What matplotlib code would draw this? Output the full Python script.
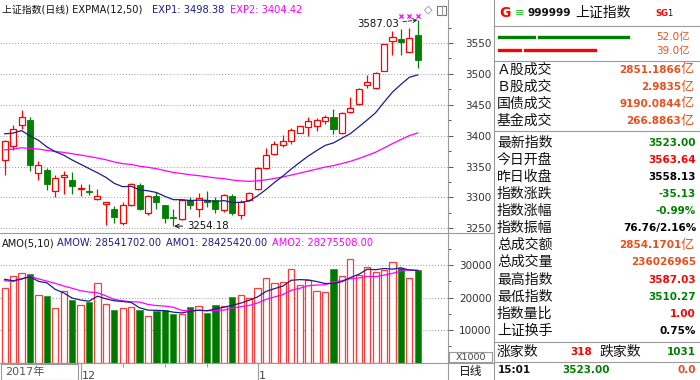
import matplotlib
matplotlib.use('Agg')
import matplotlib.pyplot as plt
from matplotlib.patches import Rectangle
from matplotlib.lines import Line2D
import matplotlib.transforms as mtrans
import numpy as np

plt.rcParams['font.family'] = ['DejaVu Sans', 'Noto Sans CJK SC']

# ---- daily candles ----
opens = [3360, 3383, 3418, 3425, 3340, 3345, 3310, 3333, 3329, 3313, 3311, 3298, 3290, 3282, 3258,
         3288, 3320, 3275, 3302, 3287, 3269, 3265, 3296, 3281, 3296, 3296, 3279, 3302, 3272, 3296,
         3314, 3347, 3371, 3385, 3392, 3405, 3414, 3415, 3424, 3431, 3404, 3438, 3451, 3482, 3477,
         3505, 3554, 3556, 3536, 3563.64]
highs = [3393, 3418, 3442, 3430, 3359, 3347, 3336, 3342, 3341, 3322, 3322, 3313, 3293, 3286, 3293,
         3323, 3323, 3304, 3308, 3288, 3281, 3297, 3300, 3307, 3311, 3300, 3306, 3305, 3296, 3308,
         3350, 3380, 3392, 3401, 3412, 3416, 3430, 3428, 3433, 3443, 3438, 3463, 3477, 3498, 3503,
         3549, 3569, 3572, 3575, 3587.03]
lows = [3336, 3377, 3410, 3342, 3328, 3312, 3300, 3305, 3306, 3303, 3304, 3296, 3256, 3259, 3256,
        3286, 3279, 3272, 3282, 3259, 3254.18, 3264, 3282, 3268, 3284, 3275, 3277, 3272, 3265, 3294,
        3312, 3346, 3369, 3382, 3387, 3405, 3400, 3408, 3419, 3403, 3403, 3436, 3450, 3477, 3476,
        3504, 3531, 3531, 3535, 3510.27]
closes = [3391, 3410, 3431, 3353, 3353, 3322, 3332, 3337, 3318, 3316, 3309, 3302, 3292, 3269, 3288,
          3321, 3281, 3302, 3293, 3267, 3267, 3296, 3288, 3299, 3293, 3282, 3304, 3275, 3293, 3307,
          3348, 3369, 3387, 3392, 3409, 3415, 3423, 3425, 3430, 3411, 3437, 3444, 3475, 3487, 3502,
          3548, 3560, 3551, 3558.13, 3523.00]

exp1 = [3403.0, 3404.1, 3408.2, 3399.7, 3392.5, 3381.7, 3374.1, 3368.4, 3360.6, 3353.7,
        3346.8, 3339.9, 3332.5, 3322.7, 3317.4, 3318.0, 3312.3, 3310.7, 3308.0, 3301.7,
        3296.4, 3296.3, 3295.0, 3295.6, 3295.3, 3293.3, 3294.9, 3291.8, 3292.0, 3294.3,
        3302.6, 3312.8, 3324.2, 3334.6, 3346.1, 3356.7, 3366.9, 3375.8, 3384.1, 3388.3,
        3395.8, 3403.2, 3414.2, 3425.4, 3437.2, 3454.2, 3470.5, 3482.9, 3494.5, 3498.38]
exp2 = [3377.0, 3378.3, 3380.4, 3379.3, 3378.3, 3376.1, 3374.4, 3372.9, 3370.7, 3368.6,
        3366.3, 3363.8, 3361.0, 3357.4, 3354.7, 3353.4, 3350.6, 3348.7, 3346.5, 3343.4,
        3340.4, 3338.7, 3336.7, 3335.2, 3333.5, 3331.5, 3330.4, 3328.2, 3326.8, 3326.0,
        3326.9, 3328.5, 3330.8, 3333.2, 3336.2, 3339.3, 3342.6, 3345.8, 3349.1, 3351.5,
        3354.9, 3358.4, 3363.0, 3367.9, 3373.2, 3380.1, 3387.2, 3393.6, 3400.1, 3404.42]

# turnover (x1000)
amount = [22890, 26770, 27500, 27200, 20830, 20520, 16740, 22060, 19290, 17750,
          18770, 24430, 18060, 16210, 16740, 17230, 16210, 14460, 15910, 16210,
          14980, 14980, 17050, 17540, 15390, 17750, 17540, 20120, 20830, 19810,
          22890, 25970, 24430, 24740, 28740, 23910, 25450, 22060, 21660, 28740,
          26680, 31820, 26980, 29540, 28000, 28520, 30890, 29050, 25970, 28541.702]
amo1 = [25660, 25200, 25800, 26460, 25038, 24564, 22558, 21470, 19888, 19272,
        18922, 20460, 19660, 19044, 18842, 18534, 16890, 16170, 16110, 16004,
        15554, 15308, 15826, 16152, 15988, 16542, 17054, 17668, 18326, 19210,
        20238, 21924, 22786, 23568, 25354, 25558, 25454, 24980, 24364, 24364,
        24918, 26192, 27176, 28752, 28604, 28972, 28786, 29200, 28486, 28425.42]
amo2 = [25230, 25000, 25700, 26600, 25800, 25100, 24400, 23600, 22900, 22155,
        21743, 21509, 20565, 19466, 19057, 18728, 18675, 17915, 17577, 17423,
        17044, 16099, 15998, 16131, 15996, 16048, 16181, 16747, 17239, 17599,
        18390, 19489, 20227, 20947, 22282, 22898, 23689, 23883, 23966, 24859,
        25238, 25823, 26078, 26558, 26484, 26945, 27489, 28188, 28619, 28275.508]

price_ticks = [3250, 3300, 3350, 3400, 3450, 3500, 3550]
vol_ticks = [10000, 20000, 30000]
month_pos = [9, 30]
month_labels = ['12', '1']

# side panel
bar_green = [15.5, 36.5]
bar_red = [10.1, 28.9]
bar_labels = ['52.0亿', '39.0亿']
info_rows = [('Ａ股成交', '2851.1866', '亿', 'orange'),
             ('Ｂ股成交', '2.9835', '亿', 'orange'),
             ('国债成交', '9190.0844', '亿', 'orange'),
             ('基金成交', '266.8863', '亿', 'orange'),
             ('最新指数', '3523.00', '', 'green'),
             ('今日开盘', '3563.64', '', 'red'),
             ('昨日收盘', '3558.13', '', 'black'),
             ('指数涨跌', '-35.13', '', 'green'),
             ('指数涨幅', '-0.99%', '', 'green'),
             ('指数振幅', '76.76/2.16%', '', 'black'),
             ('总成交额', '2854.1701', '亿', 'orange'),
             ('总成交量', '236026965', '', 'orange'),
             ('最高指数', '3587.03', '', 'red'),
             ('最低指数', '3510.27', '', 'green'),
             ('指数量比', '1.00', '', 'red'),
             ('上证换手', '0.75%', '', 'black')]

W, H = 700, 380
RED = '#ff0000'
GREEN = '#008000'
NAVY = '#1c1c8c'
MAG = '#ff00ff'
ORANGE = '#e8501e'
GRID = '#9a9a9a'
LINE = '#9a9a9a'
colmap = {'orange': ORANGE, 'green': GREEN, 'red': RED, 'black': '#000000'}

fig = plt.figure(figsize=(7, 3.8), dpi=100)
fig.patch.set_facecolor('white')


def axes_px(x0, y0, x1, y1):
    return fig.add_axes([x0 / W, 1 - y1 / H, (x1 - x0) / W, (y1 - y0) / H])


def ftext(px, py, s, **kw):
    kw.setdefault('va', 'center')
    fig.text(px / W, 1 - py / H, s, **kw)


def hline(y, x0, x1):
    fig.add_artist(Line2D([x0 / W, x1 / W], [1 - y / H, 1 - y / H], color=LINE, lw=0.8))


def vline(x, y0, y1):
    fig.add_artist(Line2D([x / W, x / W], [1 - y0 / H, 1 - y1 / H], color=LINE, lw=0.8))


x = np.arange(len(closes))
up = np.array(closes) >= np.array(opens)
XLIM = (-0.5575, 52.586)

# ---------- price panel ----------
ax_p = axes_px(0, 0, 448, 233)
ax_p.set_xlim(*XLIM)
ax_p.set_ylim(3242.4, 3619.6)
for s in ax_p.spines.values():
    s.set_visible(False)
ax_p.set_xticks([])
ax_p.yaxis.tick_right()
ax_p.set_yticks(price_ticks)
ax_p.set_yticks([p + 25 for p in price_ticks], minor=True)
ax_p.tick_params(axis='y', which='major', length=3.6, width=0.7, color='#555555',
                 labelsize=7.5, labelcolor='#333333', pad=28)
ax_p.tick_params(axis='y', which='minor', length=2, width=0.7, color='#555555')
for lbl in ax_p.get_yticklabels():
    lbl.set_horizontalalignment('right')
ax_p.grid(axis='y', which='major', linestyle=(0, (1, 2)), color=GRID, lw=0.7)

bw = 0.72
for i in range(len(closes)):
    o, h, l, c = opens[i], highs[i], lows[i], closes[i]
    col = RED if up[i] else GREEN
    ax_p.vlines(i, l, h, color=col, lw=0.9, zorder=2)
    lo, hi = min(o, c), max(o, c)
    ht = max(hi - lo, 1.0)
    if up[i]:
        ax_p.bar(i, ht, bottom=lo, width=bw, facecolor='white', edgecolor=RED, lw=0.9, zorder=3)
    else:
        ax_p.bar(i, ht, bottom=lo, width=bw, facecolor=GREEN, edgecolor=GREEN, lw=0.6, zorder=3)

ax_p.plot(x, exp2, color=MAG, lw=0.9, zorder=4)
ax_p.plot(x, exp1, color=NAVY, lw=0.9, zorder=4)

# high / low annotations
ih = int(np.argmax(highs))
il = int(np.argmin(lows))
ax_p.annotate(f'{highs[ih]:.2f}', xy=(ih, highs[ih]), xytext=(41.8, 3580.5),
              fontsize=7.3, va='center', ha='left', color='#111111',
              arrowprops=dict(arrowstyle='->', linestyle='--', lw=0.7, color='#333333',
                              shrinkA=1, shrinkB=0))
ax_p.annotate(f'{lows[il]:.2f}', xy=(il + 0.1, 3253.5), xytext=(21.6, 3253.5),
              fontsize=7.3, va='center', ha='left', color='#111111',
              arrowprops=dict(arrowstyle='->', lw=0.7, color='#111111', shrinkA=1, shrinkB=0))
ax_p.scatter(x[-3:], [3593.7] * 3, marker='x', s=9, color=MAG, lw=0.9, zorder=5)

ftext(2, 10, '上证指数(日线) EXPMA(12,50)', fontsize=7.1, color='#111111')
ftext(152, 10, f'EXP1: {exp1[-1]:.2f}', fontsize=7.1, color=NAVY)
ftext(230, 10, f'EXP2: {exp2[-1]:.2f}', fontsize=7.1, color=MAG)
ftext(428, 10, '◇', fontsize=8, color='#777777', ha='center')
fig.add_artist(Rectangle((437 / W, 1 - 15 / H), 9 / W, 9 / H, transform=fig.transFigure,
                         facecolor='white', edgecolor='#777777', lw=0.8))
vline(442, 6, 15)

# ---------- volume panel ----------
ax_v = axes_px(0, 233, 448, 363)
ax_v.set_xlim(*XLIM)
ax_v.set_ylim(-90, 39900)
for s in ax_v.spines.values():
    s.set_visible(False)
ax_v.yaxis.tick_right()
ax_v.set_yticks(vol_ticks)
ax_v.set_yticks([5000, 15000, 25000, 35000], minor=True)
ax_v.tick_params(axis='y', which='major', length=3.6, width=0.7, color='#555555',
                 labelsize=7.5, labelcolor='#333333', pad=28)
ax_v.tick_params(axis='y', which='minor', length=2, width=0.7, color='#555555')
for lbl in ax_v.get_yticklabels():
    lbl.set_horizontalalignment('right')
ax_v.grid(axis='y', which='major', linestyle=(0, (1, 2)), color=GRID, lw=0.7)

amt = np.array(amount)
ax_v.bar(x[up], amt[up], width=0.74, facecolor='white', edgecolor='#ff3a3a', lw=0.9, zorder=3)
ax_v.bar(x[~up], amt[~up], width=0.74, facecolor='#007800', edgecolor='#3aa03a', lw=0.7, zorder=3)
ax_v.plot(x, amo2, color=MAG, lw=0.9, zorder=4)
ax_v.plot(x, amo1, color=NAVY, lw=0.9, zorder=4)

# month ticks on the date row
ax_v.set_xticks(month_pos)
ax_v.set_xticks([14, 19, 24], minor=True)
ax_v.tick_params(axis='x', which='major', length=12, width=0.8, color=LINE, labelbottom=False)
ax_v.tick_params(axis='x', which='minor', length=3, width=0.7, color=LINE)
trans = mtrans.blended_transform_factory(ax_v.transData, ax_v.transAxes)
for mp, ml in zip(month_pos, month_labels):
    ax_v.text(mp + 0.2, -0.098, ml, transform=trans, fontsize=8, color='#444444',
              va='center', ha='left')

ftext(2, 243, 'AMO(5,10)', fontsize=7.1, color='#111111')
ftext(57, 243, f'AMOW: {amount[-1] * 1000:.2f}', fontsize=7.1, color=NAVY)
ftext(166, 243, f'AMO1: {amo1[-1] * 1000:.2f}', fontsize=7.1, color=NAVY)
ftext(272, 243, f'AMO2: {amo2[-1] * 1000:.2f}', fontsize=7.1, color=MAG)

# frame lines of the left part
vline(448, 0, 380)
vline(494, 0, 380)
hline(233, 0, 494)
hline(363, 0, 494)
fig.add_artist(Rectangle((449 / W, 1 - 362 / H), 43 / W, 10 / H, transform=fig.transFigure,
                         facecolor='white', edgecolor=LINE, lw=0.8))
ftext(470.5, 357, 'X1000', fontsize=6.8, color='#444444', ha='center')
fig.add_artist(Rectangle((0.5 / W, 1 - 379.5 / H), 77.5 / W, 15.5 / H, transform=fig.transFigure,
                         facecolor='none', edgecolor=LINE, lw=0.8))
ftext(5, 372, '2017年', fontsize=8, color='#555555')
ftext(471, 371.5, '日线', fontsize=8.5, color='#111111', ha='center', family=['Noto Sans CJK SC'])

# ---------- right info panel ----------
hline(26, 494, 700)
hline(61, 494, 700)
hline(131, 494, 700)
hline(342, 494, 700)
hline(362, 494, 700)

ftext(499, 13, 'G', fontsize=10, color=RED, fontweight='bold')
ftext(515, 13, '≡', fontsize=8, color='#20c020')
ftext(527, 13, '999999', fontsize=7.6, color='#111111', fontweight='bold')
ftext(575, 13, '上证指数', fontsize=10, color='#111111', family=['Noto Sans CJK SC'])
ftext(655, 14, 'SG', fontsize=6, color=RED, fontweight='bold')
ftext(667, 14, '1', fontsize=6, color='#111111')

ax_b = axes_px(497, 30, 697, 58)
ax_b.set_xlim(0, 200 / 2.577)
ax_b.set_ylim(1.6, -0.6)
ax_b.axis('off')
ax_b.barh([0, 0], bar_green, left=[0, bar_green[0]], height=0.36, color=GREEN,
          edgecolor='white', lw=1.2)
ax_b.barh([1, 1], bar_red, left=[0, bar_red[0]], height=0.36, color=RED,
          edgecolor='white', lw=1.2)
ftext(690, 37, bar_labels[0], fontsize=7.5, color=ORANGE, ha='right')
ftext(690, 51, bar_labels[1], fontsize=7.5, color=ORANGE, ha='right')

row_y = [70, 87, 104, 121, 143, 160, 177, 194, 211, 228, 245, 262, 280, 297, 314, 331]
for yy, (lab, val, unit, c) in zip(row_y, info_rows):
    ftext(497, yy, lab, fontsize=10, color='#111111', family=['Noto Sans CJK SC'])
    if unit:
        ftext(681, yy, val, fontsize=7.5, color=colmap[c], ha='right', fontweight='bold',
              family=['DejaVu Sans'])
        ftext(681, yy, unit, fontsize=9.5, color=colmap[c], ha='left',
              family=['Noto Sans CJK SC'])
    else:
        ftext(696, yy, val, fontsize=7.5, color=colmap[c], ha='right', fontweight='bold',
              family=['DejaVu Sans'])

ftext(497, 352, '涨家数', fontsize=10, color='#111111', family=['Noto Sans CJK SC'])
ftext(592, 352, '318', fontsize=7.5, color=RED, ha='right', fontweight='bold')
ftext(600, 352, '跌家数', fontsize=10, color='#111111', family=['Noto Sans CJK SC'])
ftext(696, 352, '1031', fontsize=7.5, color=GREEN, ha='right', fontweight='bold')
ftext(498, 370, '15:01', fontsize=7.5, color='#111111', fontweight='bold')
ftext(586, 370, f'{closes[-1]:.2f}', fontsize=7.5, color=GREEN, ha='center', fontweight='bold')
ftext(696, 370, '0.0', fontsize=7.5, color=ORANGE, ha='right', fontweight='bold')

fig.savefig('out.png', dpi=100)
